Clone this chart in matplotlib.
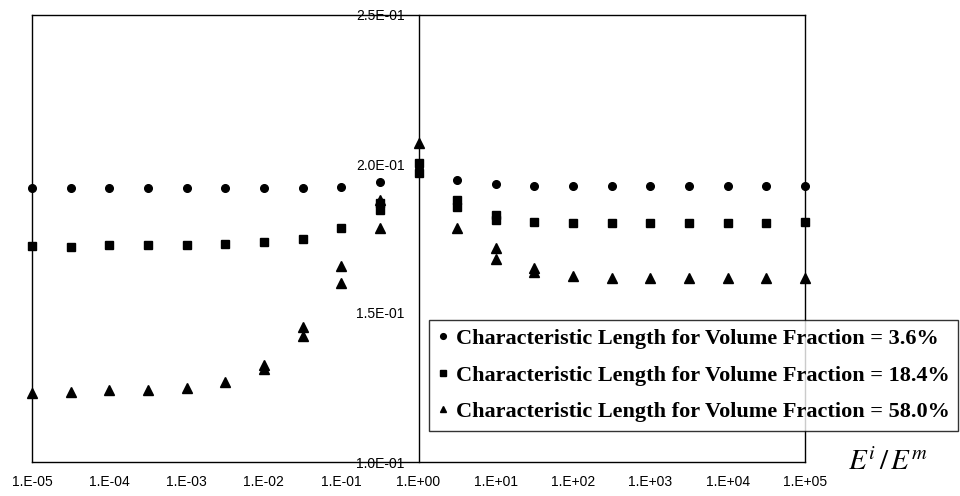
import math
import matplotlib
matplotlib.use('Agg')
import matplotlib.pyplot as plt
from matplotlib.ticker import FixedLocator, FuncFormatter

# E^i/E^m values (half decades), duplicated where two points share an x
x_36 = [1e-5, 3.16e-5, 1e-4, 3.16e-4, 1e-3, 3.16e-3, 1e-2, 3.16e-2, 1e-1, 3.16e-1,
        1e0, 3.16e0, 1e1, 3.16e1, 1e2, 3.16e2, 1e3, 3.16e3, 1e4, 3.16e4, 1e5]
y_36 = [0.1919, 0.1919, 0.1919, 0.1919, 0.1919, 0.1919, 0.1919, 0.1919, 0.1924, 0.1940,
        0.1990, 0.1946, 0.1933, 0.1926, 0.1926, 0.1926, 0.1926, 0.1926, 0.1926, 0.1926, 0.1926]

x_184 = [1e-5, 3.16e-5, 1e-4, 3.16e-4, 1e-3, 3.16e-3, 1e-2, 3.16e-2, 1e-1, 3.16e-1, 3.16e-1,
         1e0, 1e0, 3.16e0, 3.16e0, 1e1, 1e1, 3.16e1, 1e2, 3.16e2, 1e3, 3.16e3, 1e4, 3.16e4, 1e5]
y_184 = [0.1725, 0.1722, 0.1727, 0.1728, 0.1728, 0.1732, 0.1738, 0.1748, 0.1785, 0.1870, 0.1845,
         0.2005, 0.1970, 0.1879, 0.1856, 0.1829, 0.1812, 0.1805, 0.1802, 0.1802, 0.1802, 0.1802,
         0.1802, 0.1802, 0.1805]

x_580 = [1e-5, 3.16e-5, 1e-4, 3.16e-4, 1e-3, 3.16e-3, 1e-2, 1e-2, 3.16e-2, 3.16e-2, 1e-1, 1e-1,
         3.16e-1, 3.16e-1, 1e0, 3.16e0, 1e1, 1e1, 3.16e1, 3.16e1, 1e2, 3.16e2, 1e3, 3.16e3,
         1e4, 3.16e4, 1e5]
y_580 = [0.1232, 0.1235, 0.1242, 0.1242, 0.1248, 0.1268, 0.1326, 0.1312, 0.1453, 0.1423, 0.1658, 0.1601,
         0.1880, 0.1785, 0.2070, 0.1785, 0.1718, 0.1681, 0.1651, 0.1638, 0.1624, 0.1618, 0.1618, 0.1618,
         0.1618, 0.1618, 0.1618]

labels = ['Characteristic Length for Volume Fraction = 3.6%',
          'Characteristic Length for Volume Fraction = 18.4%',
          'Characteristic Length for Volume Fraction = 58.0%']

x_ticks = [1e-5, 1e-4, 1e-3, 1e-2, 1e-1, 1e0, 1e1, 1e2, 1e3, 1e4, 1e5]
y_ticks = [0.10, 0.15, 0.20, 0.25]

plt.rcParams['mathtext.fontset'] = 'stix'

fig = plt.figure(figsize=(9.6, 4.96), dpi=100)
ax = fig.add_axes([32 / 960, 1 - 462 / 496, (805 - 32) / 960, (462 - 15) / 496])

ax.plot(x_36, y_36, 'o', color='black', ms=5.5, ls='none', clip_on=False, label=labels[0])
ax.plot(x_184, y_184, 's', color='black', ms=6, ls='none', clip_on=False, label=labels[1])
ax.plot(x_580, y_580, '^', color='black', ms=6.5, ls='none', clip_on=False, label=labels[2])

ax.set_xscale('log')
ax.set_xlim(1e-5, 1e5)
ax.set_ylim(0.10, 0.25)

ax.xaxis.set_major_locator(FixedLocator(x_ticks))
ax.xaxis.set_minor_locator(FixedLocator([]))
ax.xaxis.set_major_formatter(FuncFormatter(lambda v, p: '1.E%+03d' % round(math.log10(v))))
ax.yaxis.set_major_locator(FixedLocator(y_ticks))
ax.yaxis.set_major_formatter(FuncFormatter(lambda v, p: '%.1E' % v))

# y axis sits at E^i/E^m = 1, the left border is drawn separately
ax.spines['left'].set_position(('data', 1))
ax.axvline(1e-5, color='black', lw=1, clip_on=False)
for s in ['left', 'right', 'top', 'bottom']:
    ax.spines[s].set_linewidth(1)
    ax.spines[s].set_color('black')

ax.tick_params(axis='both', length=0, labelsize=10)
ax.tick_params(axis='x', pad=9)
ax.tick_params(axis='y', pad=10)
for t in ax.get_xticklabels() + ax.get_yticklabels():
    t.set_fontfamily('Liberation Sans')

fig.text(888 / 960, 1 - 462 / 496, r'$E^{i}\,/\,E^{m}$', fontsize=21,
         ha='center', va='center')

leg = ax.legend(loc='upper right', bbox_to_anchor=(958 / 960, 1 - 320 / 496),
                bbox_transform=fig.transFigure, frameon=True, fancybox=False,
                prop={'family': 'Liberation Serif', 'weight': 'bold', 'size': 16},
                handlelength=0.5, handletextpad=0.3, labelspacing=0.72,
                borderpad=0.38, borderaxespad=0, markerscale=0.75)
leg.get_frame().set_edgecolor('black')
leg.get_frame().set_linewidth(1)

fig.savefig('out.png', dpi=100)
